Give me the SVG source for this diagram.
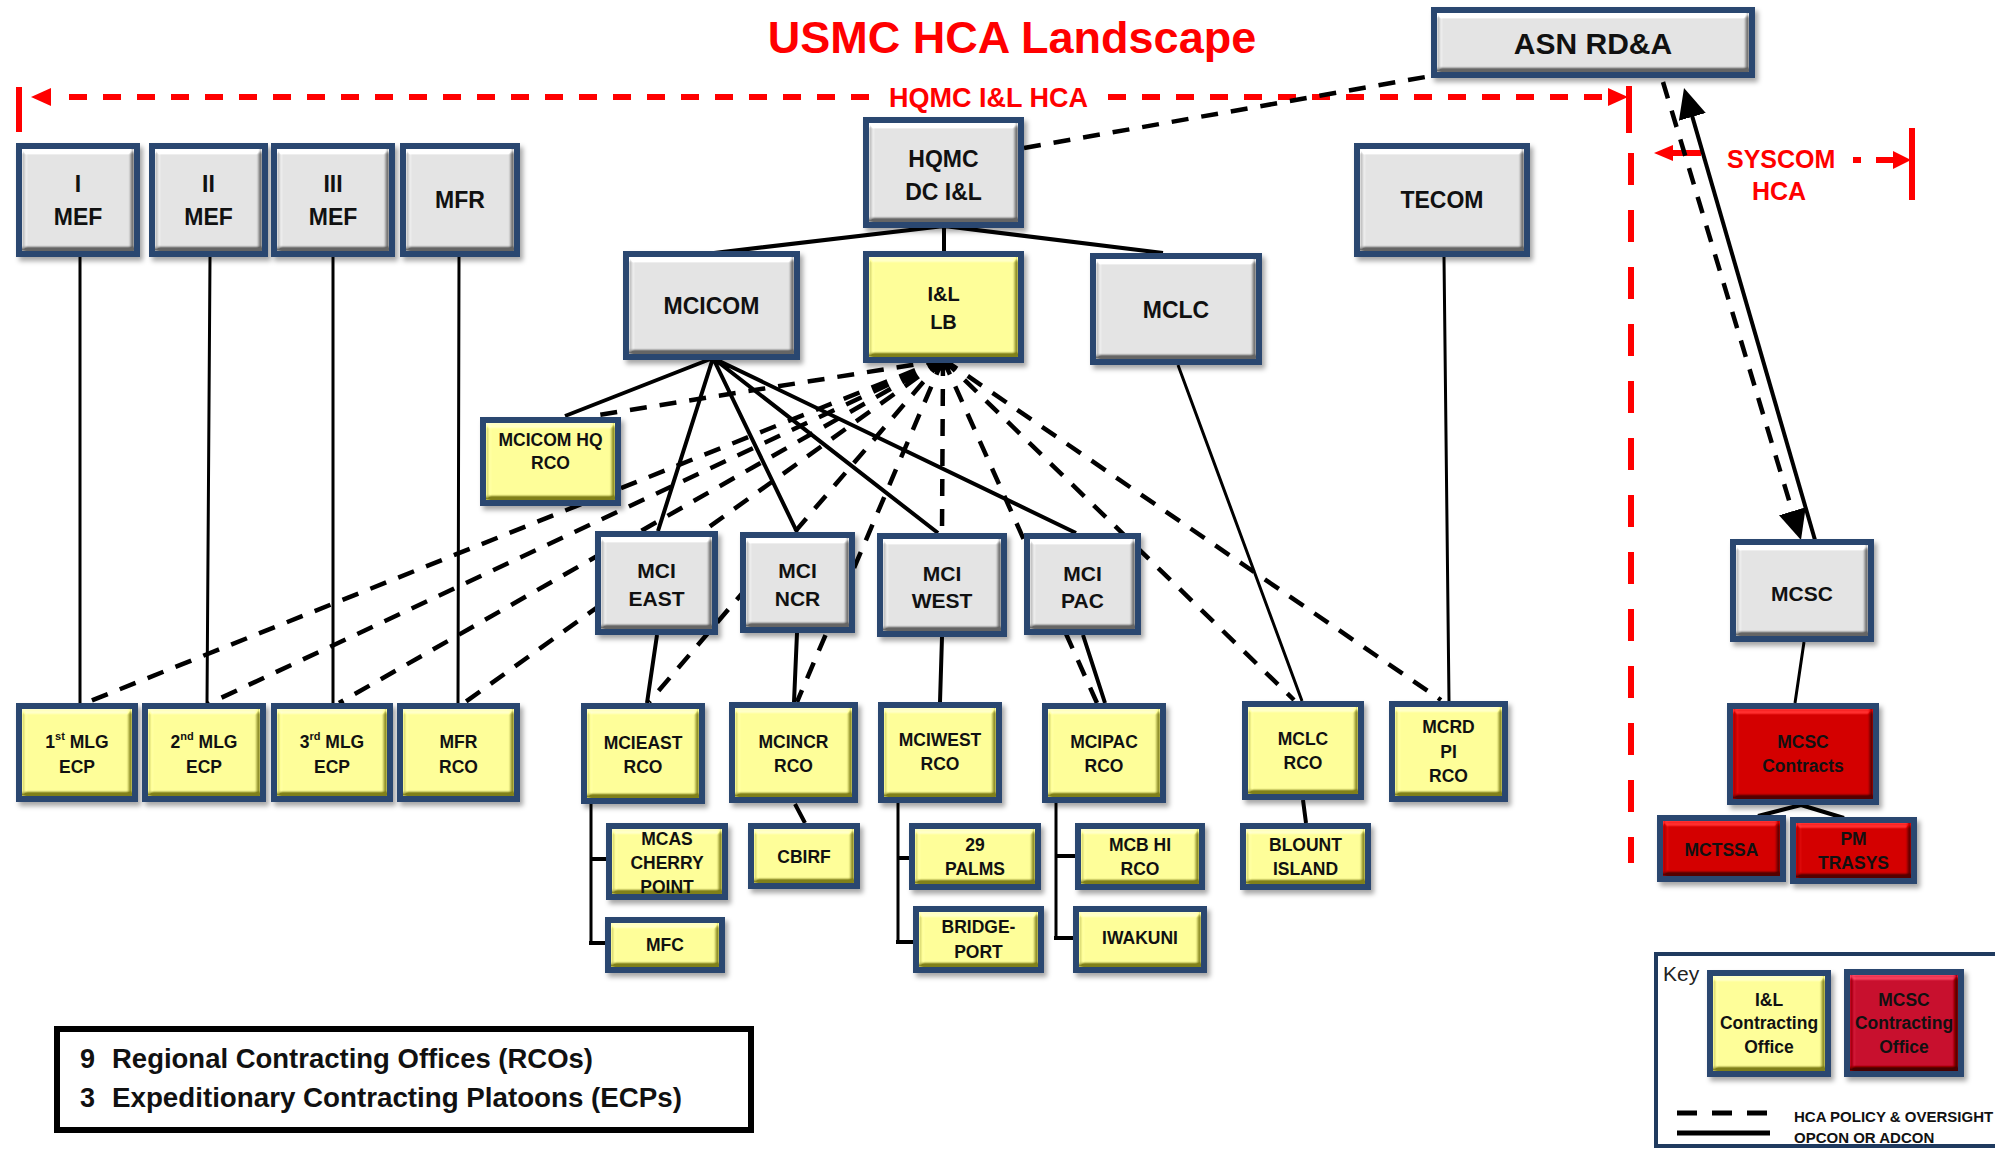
<svg xmlns="http://www.w3.org/2000/svg" width="1995" height="1149" viewBox="0 0 1995 1149">
<defs>
<style>
.frame{fill:#2A4670;filter:url(#shadow)}
.face{filter:url(#bev)}
.gray{fill:#E4E4E4}
.yel{fill:#FFFF99}
.red{fill:#D40000}
.crim{fill:#C8102E}
.t{font-family:"Liberation Sans",Arial,sans-serif;font-weight:bold;text-anchor:middle;dominant-baseline:central;fill:#111}
.s30{font-size:30px}.s23{font-size:23px}.s21{font-size:21px}.s20{font-size:20px}.s17{font-size:17.5px}
.sol{stroke:#000;stroke-width:4;fill:none}
.thin{stroke:#000;stroke-width:3;fill:none}
.dsh{stroke:#000;stroke-width:4.5;fill:none;stroke-dasharray:17 13}
.rsol{stroke:#FF0000;stroke-width:6;fill:none}
.rdash{stroke:#FF0000;stroke-width:6;fill:none;stroke-dasharray:18 16}
.rvdash{stroke:#FF0000;stroke-width:6;fill:none;stroke-dasharray:32 25}
.rtxt{font-family:"Liberation Sans",Arial,sans-serif;font-weight:bold;fill:#FF0000}
</style>
<filter id="shadow" x="-10%" y="-10%" width="130%" height="130%">
<feDropShadow dx="3" dy="4" stdDeviation="2.5" flood-color="#000" flood-opacity="0.35"/>
</filter>
<filter id="bev" x="0" y="0" width="1" height="1" color-interpolation-filters="sRGB">
<feGaussianBlur in="SourceAlpha" stdDeviation="2.2" result="b"/>
<feDiffuseLighting in="b" surfaceScale="7" diffuseConstant="0.7071" lighting-color="#fff" result="l">
<feDistantLight azimuth="250" elevation="45"/>
</feDiffuseLighting>
<feComposite in="SourceGraphic" in2="l" operator="arithmetic" k1="0" k2="1" k3="1" k4="-0.5" result="r"/>
<feComposite in="r" in2="SourceAlpha" operator="in"/>
</filter>
<marker id="arr" viewBox="0 0 30 28" refX="20" refY="14" markerWidth="30" markerHeight="28" markerUnits="userSpaceOnUse" orient="auto">
<path d="M0,0 L30,14 L0,28 z" fill="#000"/>
</marker>
</defs>
<rect width="1995" height="1149" fill="#fff"/>

<text class="rtxt" x="1012" y="53" font-size="45" text-anchor="middle">USMC HCA Landscape</text>

<g id="connectors">
<g id="hca-bounds">
<line class="rsol" x1="19" y1="87" x2="19" y2="132"/>
<polygon points="31,97 51,88 51,106" fill="#FF0000"/>
<line class="rdash" x1="69" y1="97" x2="878" y2="97"/>
<text class="rtxt" x="889" y="107" font-size="27">HQMC I&amp;L HCA</text>
<line class="rdash" x1="1108" y1="97" x2="1604" y2="97"/>
<polygon points="1628,97 1608,88 1608,106" fill="#FF0000"/>
<line class="rsol" x1="1629" y1="86" x2="1629" y2="133"/>
<line class="rvdash" x1="1631" y1="153" x2="1631" y2="863"/>
<polygon points="1654,153 1673,145 1673,161" fill="#FF0000"/>
<line class="rsol" x1="1672" y1="153" x2="1701" y2="153" stroke-width="5"/>
<text class="rtxt" x="1727" y="168" font-size="25">SYSCOM</text>
<text class="rtxt" x="1752" y="200" font-size="25">HCA</text>
<line class="rsol" x1="1853" y1="160" x2="1861" y2="160" stroke-width="5"/>
<line class="rsol" x1="1876" y1="160" x2="1896" y2="160" stroke-width="5"/>
<polygon points="1911,160 1893,151 1893,169" fill="#FF0000"/>
<line class="rsol" x1="1912" y1="128" x2="1912" y2="200"/>
</g>
<line class="dsh" x1="1024" y1="148" x2="1431" y2="76" stroke-width="5" stroke-dasharray="20 13"/>
<line class="sol" x1="1815" y1="540" x2="1686.8" y2="97.6" stroke-width="5" marker-end="url(#arr)"/>
<line class="dsh" x1="1663" y1="82" x2="1798.1" y2="530.4" stroke-dasharray="16 10" marker-end="url(#arr)"/>
<path class="sol" d="M944,226 L714,253 M944,226 L944,252 M944,226 L1163,253"/>
<path class="thin" d="M80,257 L80,704 M210,257 L207,704 M333,257 L333,704 M459,257 L458,704 M1444,257 L1449,701 M1178,365 L1302,701 M1804,642 L1795,703"/>
<path class="sol" d="M713,358 L565,416 M713,358 L658,531 M713,358 L797,532 M713,358 L938,533 M713,358 L1076,533"/>
<path class="sol" d="M657,635 L647,703 M797,633 L794,702 M942,637 L940,702 M1083,635 L1105,703"/>
<line class="dsh" x1="943" y1="360" x2="592" y2="416" stroke-width="6" stroke-dasharray="27 17"/>
<path class="dsh" d="M943,359 L83,704 M943,359 L208,704 M943,359 L339,703 M943,359 L464,703 M943,359 L649,702 M943,359 L797,702 M943,359 L942,533 M943,359 L1097,703 M943,359 L1294,700 M943,359 L1441,700"/>
<path class="thin" d="M591,804 V943 M898,803 V942 M1056,803 V938"/>
<path class="sol" stroke-width="5" d="M589,943 H610 M591,859 H608 M896,942 H913 M898,858 H910 M1054,938 H1074 M1056,856 H1076"/>
<path class="sol" d="M795,804 L805,823 M1303,800 L1306,823 M1801,805 L1758,816 M1801,805 L1844,818"/>
</g>

<g id="n-imef"><rect class="frame" x="16" y="143" width="124" height="114"/><rect class="face gray" x="22" y="149" width="112" height="102"/><text class="t s23" x="78" y="184">I</text><text class="t s23" x="78" y="217">MEF</text></g>
<g id="n-iimef"><rect class="frame" x="149" y="143" width="119" height="114"/><rect class="face gray" x="155" y="149" width="107" height="102"/><text class="t s23" x="208.5" y="184">II</text><text class="t s23" x="208.5" y="217">MEF</text></g>
<g id="n-iiimef"><rect class="frame" x="271" y="143" width="124" height="114"/><rect class="face gray" x="277" y="149" width="112" height="102"/><text class="t s23" x="333" y="184">III</text><text class="t s23" x="333" y="217">MEF</text></g>
<g id="n-mfr"><rect class="frame" x="400" y="143" width="120" height="114"/><rect class="face gray" x="406" y="149" width="108" height="102"/><text class="t s23" x="460" y="200">MFR</text></g>
<g id="n-hqmc"><rect class="frame" x="863" y="117" width="161" height="111"/><rect class="face gray" x="869" y="123" width="149" height="99"/><text class="t s23" x="943.5" y="159">HQMC</text><text class="t s23" x="943.5" y="192">DC I&amp;L</text></g>
<g id="n-tecom"><rect class="frame" x="1354" y="143" width="176" height="114"/><rect class="face gray" x="1360" y="149" width="164" height="102"/><text class="t s23" x="1442" y="200">TECOM</text></g>
<g id="n-asn"><rect class="frame" x="1431" y="7" width="324" height="71"/><rect class="face gray" x="1437" y="13" width="312" height="59"/><text class="t s30" x="1593" y="43">ASN RD&amp;A</text></g>
<g id="n-mcicom"><rect class="frame" x="623" y="251" width="177" height="109"/><rect class="face gray" x="629" y="257" width="165" height="97"/><text class="t s23" x="711.5" y="306">MCICOM</text></g>
<g id="n-illb"><rect class="frame" x="863" y="251" width="161" height="112"/><rect class="face yel" x="869" y="257" width="149" height="100"/><text class="t s20" x="943.5" y="294">I&amp;L</text><text class="t s20" x="943.5" y="322">LB</text></g>
<g id="n-mclc"><rect class="frame" x="1090" y="253" width="172" height="112"/><rect class="face gray" x="1096" y="259" width="160" height="100"/><text class="t s23" x="1176" y="310">MCLC</text></g>
<g id="n-mcicomhq"><rect class="frame" x="480" y="417" width="141" height="89"/><rect class="face yel" x="486" y="423" width="129" height="77"/><text class="t s17" x="550.5" y="440">MCICOM HQ</text><text class="t s17" x="550.5" y="463">RCO</text></g>
<g id="n-mcieast"><rect class="frame" x="595" y="531" width="123" height="104"/><rect class="face gray" x="601" y="537" width="111" height="92"/><text class="t s21" x="656.5" y="570">MCI</text><text class="t s21" x="656.5" y="598">EAST</text></g>
<g id="n-mcincr"><rect class="frame" x="740" y="532" width="115" height="101"/><rect class="face gray" x="746" y="538" width="103" height="89"/><text class="t s21" x="797.5" y="570">MCI</text><text class="t s21" x="797.5" y="598">NCR</text></g>
<g id="n-mciwest"><rect class="frame" x="877" y="533" width="130" height="104"/><rect class="face gray" x="883" y="539" width="118" height="92"/><text class="t s21" x="942" y="573">MCI</text><text class="t s21" x="942" y="600">WEST</text></g>
<g id="n-mcipac"><rect class="frame" x="1024" y="533" width="117" height="102"/><rect class="face gray" x="1030" y="539" width="105" height="90"/><text class="t s21" x="1082.5" y="573">MCI</text><text class="t s21" x="1082.5" y="600">PAC</text></g>
<g id="n-1mlg"><rect class="frame" x="16" y="703" width="122" height="99"/><rect class="face yel" x="22" y="709" width="110" height="87"/><text class="t s17" x="77" y="742">1<tspan font-size="11" dy="-6">st</tspan><tspan dy="6"> MLG</tspan></text><text class="t s17" x="77" y="767">ECP</text></g>
<g id="n-2mlg"><rect class="frame" x="142" y="703" width="124" height="99"/><rect class="face yel" x="148" y="709" width="112" height="87"/><text class="t s17" x="204" y="742">2<tspan font-size="11" dy="-6">nd</tspan><tspan dy="6"> MLG</tspan></text><text class="t s17" x="204" y="767">ECP</text></g>
<g id="n-3mlg"><rect class="frame" x="271" y="703" width="122" height="99"/><rect class="face yel" x="277" y="709" width="110" height="87"/><text class="t s17" x="332" y="742">3<tspan font-size="11" dy="-6">rd</tspan><tspan dy="6"> MLG</tspan></text><text class="t s17" x="332" y="767">ECP</text></g>
<g id="n-mfrrco"><rect class="frame" x="397" y="703" width="123" height="99"/><rect class="face yel" x="403" y="709" width="111" height="87"/><text class="t s17" x="458.5" y="742">MFR</text><text class="t s17" x="458.5" y="767">RCO</text></g>
<g id="n-mcieastrco"><rect class="frame" x="581" y="703" width="124" height="101"/><rect class="face yel" x="587" y="709" width="112" height="89"/><text class="t s17" x="643" y="743">MCIEAST</text><text class="t s17" x="643" y="767">RCO</text></g>
<g id="n-mcincrrco"><rect class="frame" x="729" y="702" width="129" height="101"/><rect class="face yel" x="735" y="708" width="117" height="89"/><text class="t s17" x="793.5" y="742">MCINCR</text><text class="t s17" x="793.5" y="766">RCO</text></g>
<g id="n-mciwestrco"><rect class="frame" x="878" y="702" width="124" height="101"/><rect class="face yel" x="884" y="708" width="112" height="89"/><text class="t s17" x="940" y="740">MCIWEST</text><text class="t s17" x="940" y="764">RCO</text></g>
<g id="n-mcipacrco"><rect class="frame" x="1042" y="703" width="124" height="100"/><rect class="face yel" x="1048" y="709" width="112" height="88"/><text class="t s17" x="1104" y="742">MCIPAC</text><text class="t s17" x="1104" y="766">RCO</text></g>
<g id="n-mclcrco"><rect class="frame" x="1242" y="701" width="122" height="99"/><rect class="face yel" x="1248" y="707" width="110" height="87"/><text class="t s17" x="1303" y="739">MCLC</text><text class="t s17" x="1303" y="763">RCO</text></g>
<g id="n-mcrdpi"><rect class="frame" x="1389" y="701" width="119" height="101"/><rect class="face yel" x="1395" y="707" width="107" height="89"/><text class="t s17" x="1448.5" y="727">MCRD</text><text class="t s17" x="1448.5" y="752">PI</text><text class="t s17" x="1448.5" y="776">RCO</text></g>
<g id="n-mcsc"><rect class="frame" x="1730" y="539" width="144" height="103"/><rect class="face gray" x="1736" y="545" width="132" height="91"/><text class="t s21" x="1802" y="593">MCSC</text></g>
<g id="n-mcsccontracts"><rect class="frame" x="1727" y="703" width="152" height="102"/><rect class="face red" x="1733" y="709" width="140" height="90"/><text class="t s17" x="1803" y="742">MCSC</text><text class="t s17" x="1803" y="766">Contracts</text></g>
<g id="n-mctssa"><rect class="frame" x="1657" y="815" width="129" height="67"/><rect class="face red" x="1663" y="821" width="117" height="55"/><text class="t s17" x="1721.5" y="850">MCTSSA</text></g>
<g id="n-pmtrasys"><rect class="frame" x="1790" y="817" width="127" height="67"/><rect class="face red" x="1796" y="823" width="115" height="55"/><text class="t s17" x="1853.5" y="839">PM</text><text class="t s17" x="1853.5" y="863">TRASYS</text></g>
<g id="n-mcascp"><rect class="frame" x="606" y="823" width="122" height="77"/><rect class="face yel" x="612" y="829" width="110" height="65"/><text class="t s17" x="667" y="839">MCAS</text><text class="t s17" x="667" y="863">CHERRY</text><text class="t s17" x="667" y="887">POINT</text></g>
<g id="n-mfc"><rect class="frame" x="605" y="917" width="120" height="56"/><rect class="face yel" x="611" y="923" width="108" height="44"/><text class="t s17" x="665" y="945">MFC</text></g>
<g id="n-cbirf"><rect class="frame" x="748" y="823" width="112" height="66"/><rect class="face yel" x="754" y="829" width="100" height="54"/><text class="t s17" x="804" y="857">CBIRF</text></g>
<g id="n-29palms"><rect class="frame" x="909" y="823" width="132" height="67"/><rect class="face yel" x="915" y="829" width="120" height="55"/><text class="t s17" x="975" y="845">29</text><text class="t s17" x="975" y="869">PALMS</text></g>
<g id="n-bridgeport"><rect class="frame" x="913" y="906" width="131" height="67"/><rect class="face yel" x="919" y="912" width="119" height="55"/><text class="t s17" x="978.5" y="927">BRIDGE-</text><text class="t s17" x="978.5" y="952">PORT</text></g>
<g id="n-mcbhi"><rect class="frame" x="1075" y="823" width="130" height="67"/><rect class="face yel" x="1081" y="829" width="118" height="55"/><text class="t s17" x="1140" y="845">MCB HI</text><text class="t s17" x="1140" y="869">RCO</text></g>
<g id="n-iwakuni"><rect class="frame" x="1073" y="906" width="134" height="67"/><rect class="face yel" x="1079" y="912" width="122" height="55"/><text class="t s17" x="1140" y="938">IWAKUNI</text></g>
<g id="n-blount"><rect class="frame" x="1240" y="823" width="131" height="67"/><rect class="face yel" x="1246" y="829" width="119" height="55"/><text class="t s17" x="1305.5" y="845">BLOUNT</text><text class="t s17" x="1305.5" y="869">ISLAND</text></g>

<g id="summary">
<rect x="57" y="1029" width="694" height="101" fill="#fff" stroke="#000" stroke-width="6"/>
<text font-family="'Liberation Sans',Arial,sans-serif" font-weight="bold" font-size="27" fill="#111"><tspan x="80" y="1068">9</tspan><tspan x="112" y="1068" textLength="481" lengthAdjust="spacingAndGlyphs">Regional Contracting Offices (RCOs)</tspan></text>
<text font-family="'Liberation Sans',Arial,sans-serif" font-weight="bold" font-size="27" fill="#111"><tspan x="80" y="1107">3</tspan><tspan x="112" y="1107" textLength="570" lengthAdjust="spacingAndGlyphs">Expeditionary Contracting Platoons (ECPs)</tspan></text>
</g>

<g id="key">
<rect x="1656" y="954" width="400" height="192" fill="#fff" stroke="#1F3A5F" stroke-width="4"/>
<text x="1663" y="981" font-family="'Liberation Sans',Arial,sans-serif" font-size="21" fill="#222">Key</text>
<g id="key-il"><rect class="frame" x="1707" y="970" width="124" height="107"/><rect class="face yel" x="1713" y="976" width="112" height="95"/><text class="t s17" x="1769" y="1000">I&amp;L</text><text class="t s17" x="1769" y="1023">Contracting</text><text class="t s17" x="1769" y="1047">Office</text></g>
<g id="key-mcsc"><rect class="frame" x="1844" y="969" width="120" height="108"/><rect class="face crim" x="1850" y="975" width="108" height="96"/><text class="t s17" x="1904" y="1000">MCSC</text><text class="t s17" x="1904" y="1023">Contracting</text><text class="t s17" x="1904" y="1047">Office</text></g>
<line x1="1677" y1="1113" x2="1767" y2="1113" stroke="#000" stroke-width="5" stroke-dasharray="20 15"/>
<line x1="1677" y1="1133" x2="1770" y2="1133" stroke="#000" stroke-width="5"/>
<text x="1794" y="1116" font-family="'Liberation Sans',Arial,sans-serif" font-weight="bold" font-size="15" dominant-baseline="central" fill="#111">HCA POLICY &amp; OVERSIGHT</text>
<text x="1794" y="1137" font-family="'Liberation Sans',Arial,sans-serif" font-weight="bold" font-size="15" dominant-baseline="central" fill="#111">OPCON OR ADCON</text>
</g>
</svg>
